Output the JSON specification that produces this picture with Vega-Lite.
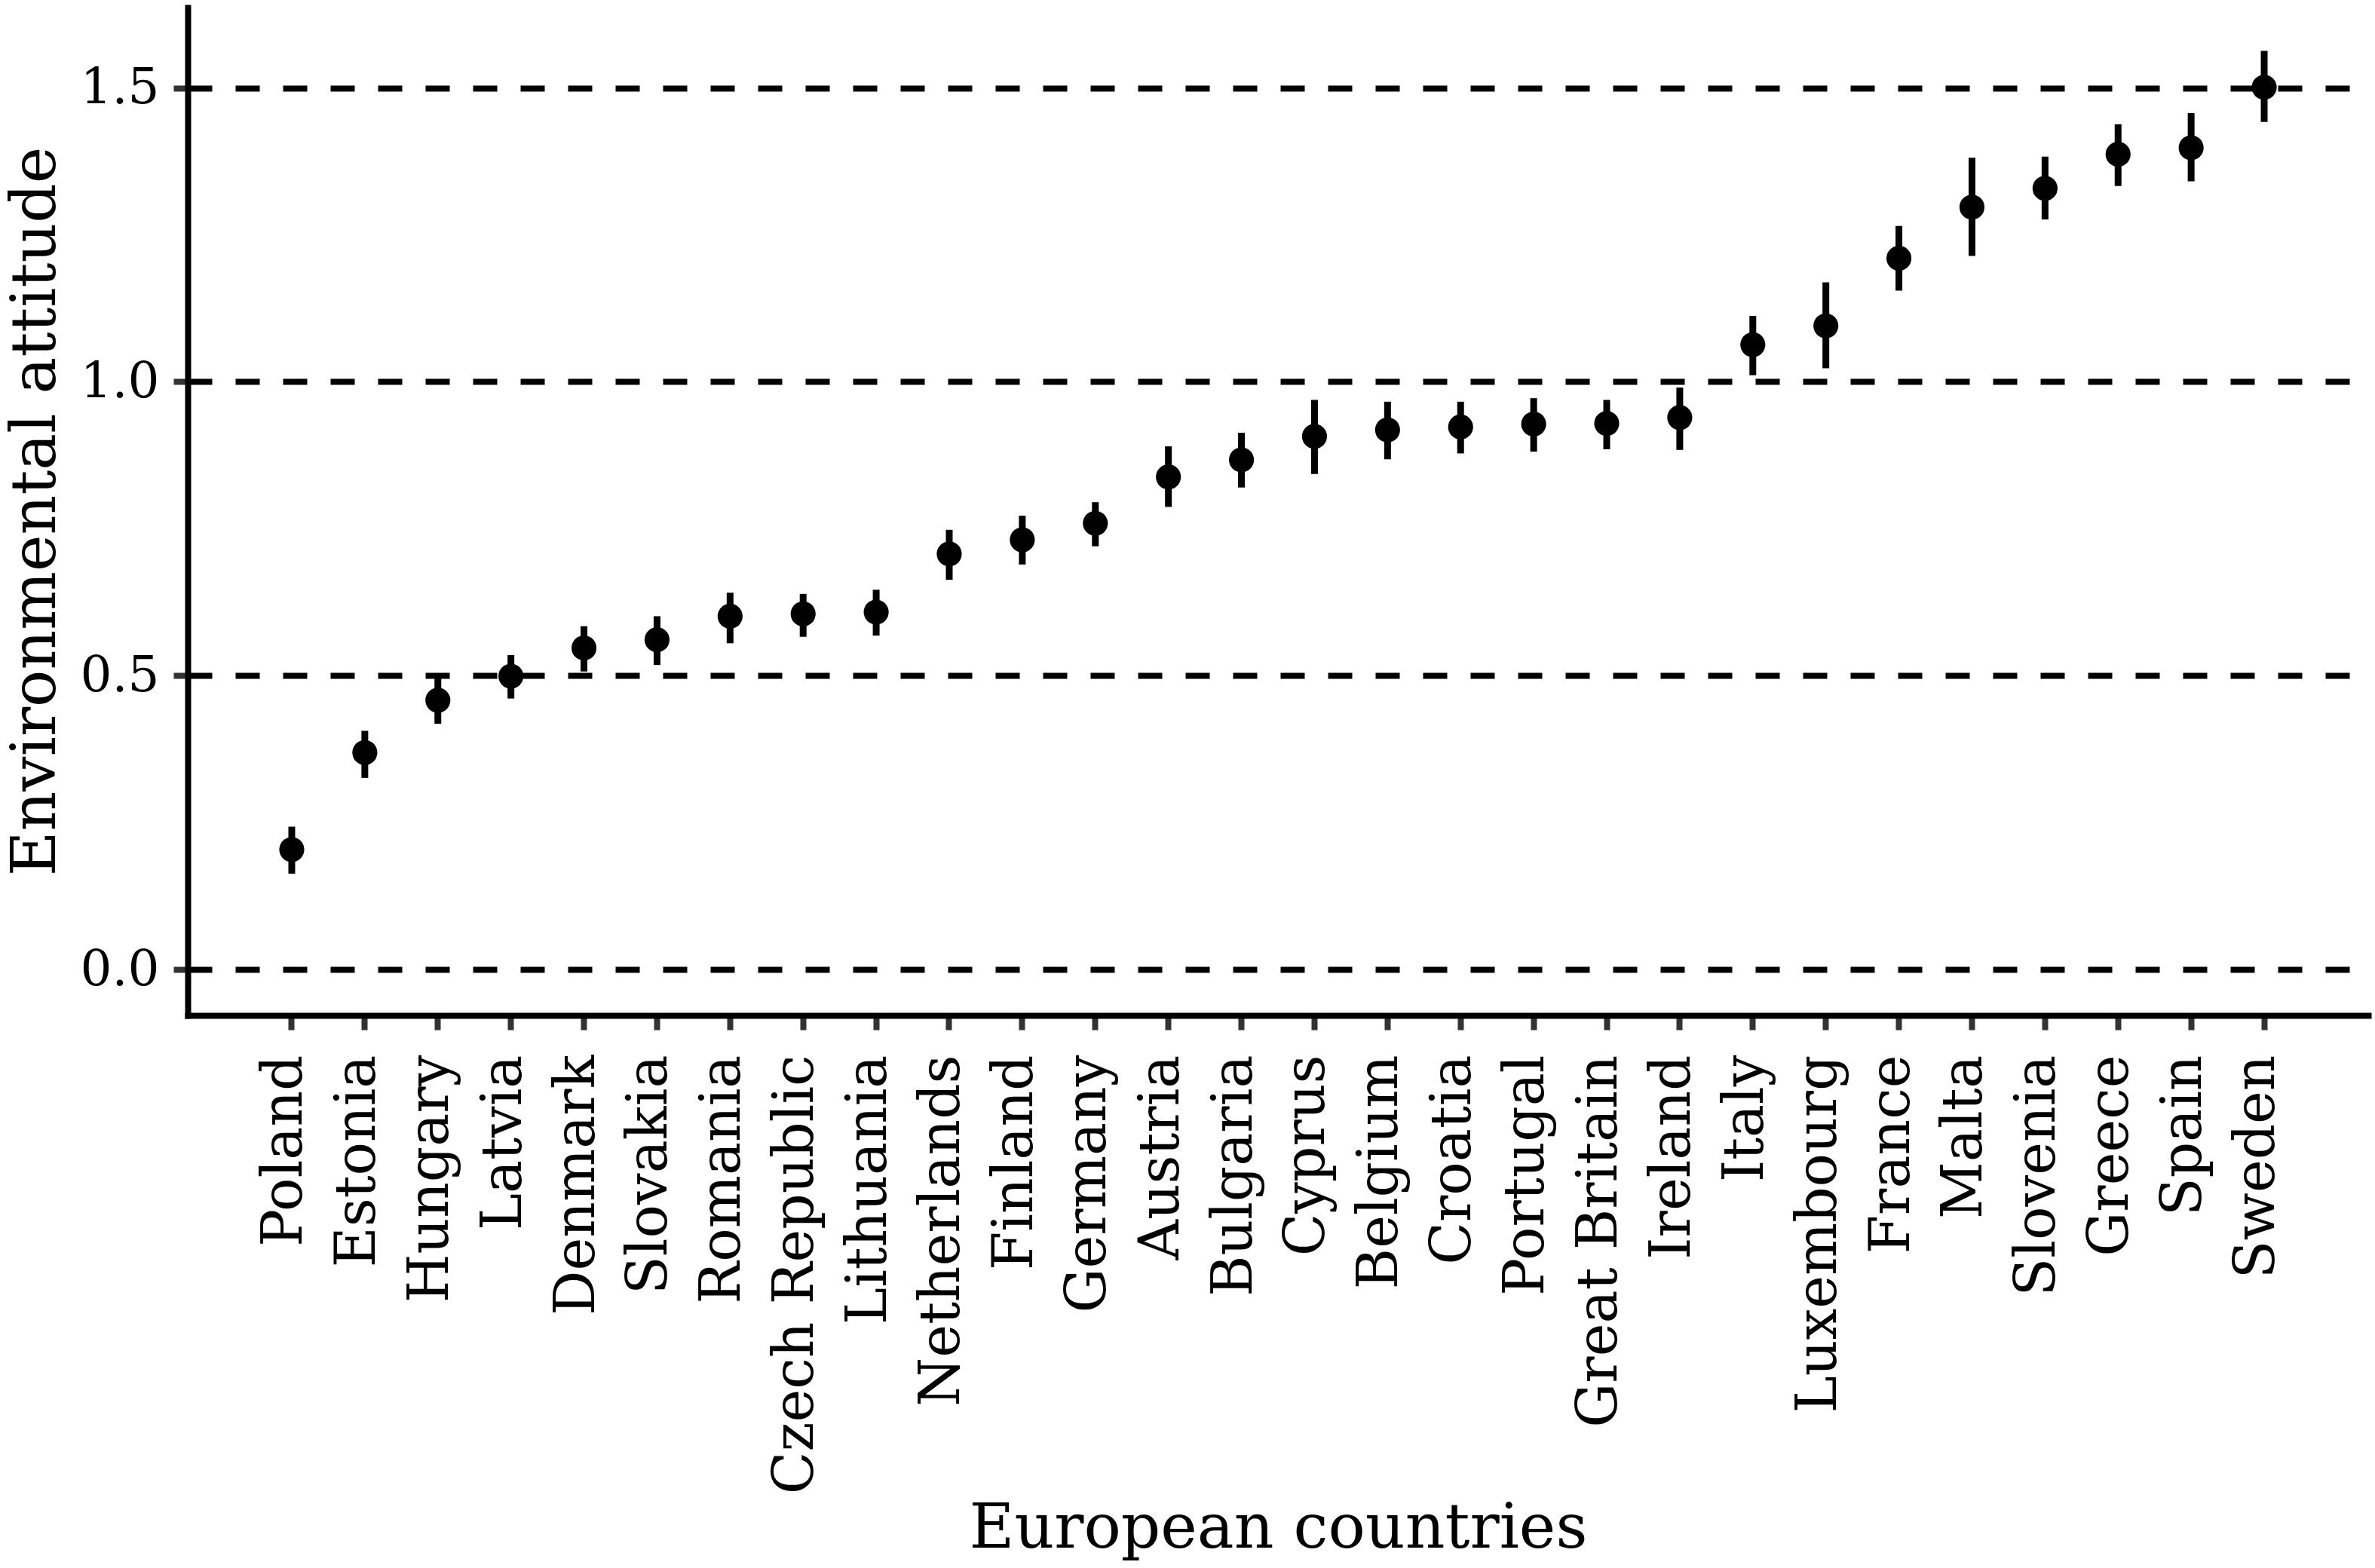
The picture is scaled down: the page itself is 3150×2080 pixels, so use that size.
{
  "$schema": "https://vega.github.io/schema/vega-lite/v6.json",
  "width": 2892,
  "height": 1337,
  "autosize": {"type": "none"},
  "padding": {"left": 249, "top": 10, "right": 9, "bottom": 733},
  "background": "white",
  "config": {
    "view": {"stroke": null},
    "font": "DejaVu Serif",
    "axis": {
      "labelFont": "DejaVu Serif",
      "titleFont": "DejaVu Serif",
      "labelColor": "black",
      "titleColor": "black",
      "titleFontWeight": "normal",
      "domainColor": "black",
      "domainWidth": 8,
      "domainCap": "square",
      "tickColor": "#333333",
      "tickWidth": 8,
      "tickSize": 19
    }
  },
  "data": {
    "values": [
      {"country": "Poland", "mean": 0.204, "lo": 0.163, "hi": 0.243},
      {"country": "Estonia", "mean": 0.369, "lo": 0.326, "hi": 0.406},
      {"country": "Hungary", "mean": 0.458, "lo": 0.418, "hi": 0.498},
      {"country": "Latvia", "mean": 0.499, "lo": 0.461, "hi": 0.535},
      {"country": "Denmark", "mean": 0.547, "lo": 0.507, "hi": 0.584},
      {"country": "Slovakia", "mean": 0.561, "lo": 0.518, "hi": 0.601},
      {"country": "Romania", "mean": 0.601, "lo": 0.555, "hi": 0.641},
      {"country": "Czech Republic", "mean": 0.605, "lo": 0.566, "hi": 0.639},
      {"country": "Lithuania", "mean": 0.608, "lo": 0.568, "hi": 0.646},
      {"country": "Netherlands", "mean": 0.707, "lo": 0.663, "hi": 0.748},
      {"country": "Finland", "mean": 0.731, "lo": 0.689, "hi": 0.772},
      {"country": "Germany", "mean": 0.759, "lo": 0.720, "hi": 0.795},
      {"country": "Austria", "mean": 0.838, "lo": 0.787, "hi": 0.890},
      {"country": "Bulgaria", "mean": 0.867, "lo": 0.820, "hi": 0.913},
      {"country": "Cyprus", "mean": 0.907, "lo": 0.843, "hi": 0.969},
      {"country": "Belgium", "mean": 0.918, "lo": 0.868, "hi": 0.966},
      {"country": "Croatia", "mean": 0.923, "lo": 0.878, "hi": 0.966},
      {"country": "Portugal", "mean": 0.928, "lo": 0.881, "hi": 0.972},
      {"country": "Great Britain", "mean": 0.929, "lo": 0.885, "hi": 0.969},
      {"country": "Ireland", "mean": 0.939, "lo": 0.884, "hi": 0.990},
      {"country": "Italy", "mean": 1.063, "lo": 1.011, "hi": 1.112},
      {"country": "Luxembourg", "mean": 1.095, "lo": 1.023, "hi": 1.169},
      {"country": "France", "mean": 1.210, "lo": 1.155, "hi": 1.265},
      {"country": "Malta", "mean": 1.297, "lo": 1.214, "hi": 1.381},
      {"country": "Slovenia", "mean": 1.329, "lo": 1.276, "hi": 1.383},
      {"country": "Greece", "mean": 1.387, "lo": 1.333, "hi": 1.438},
      {"country": "Spain", "mean": 1.398, "lo": 1.341, "hi": 1.457},
      {"country": "Sweden", "mean": 1.501, "lo": 1.442, "hi": 1.563}
    ]
  },
  "encoding": {
    "x": {
      "field": "country",
      "type": "nominal",
      "sort": null,
      "scale": {"type": "band", "paddingInner": 0, "paddingOuter": 0.924},
      "axis": {
        "title": "European countries",
        "titleFontSize": 82,
        "titleX": 1446,
        "titleY": 705,
        "titleAlign": "center",
        "titleBaseline": "alphabetic",
        "labelAngle": -90,
        "labelFontSize": 74,
        "labelPadding": 33,
        "labelOffset": -9,
        "labelLimit": 0,
        "bandPosition": 0.5,
        "grid": false
      }
    }
  },
  "layer": [
    {
      "mark": {"type": "rule", "color": "black", "strokeWidth": 9, "strokeCap": "butt"},
      "encoding": {
        "y": {
          "field": "lo",
          "type": "quantitative",
          "scale": {"domain": [-0.0782, 1.6366], "nice": false, "zero": false},
          "axis": {
            "title": "Environmental attitude",
            "titleFontSize": 82,
            "titleAngle": -90,
            "titleX": -177,
            "titleY": 668,
            "titleAlign": "center",
            "titleBaseline": "alphabetic",
            "values": [0, 0.5, 1, 1.5],
            "format": ".1f",
            "labelFontSize": 66,
            "labelPadding": 19,
            "grid": true,
            "gridColor": "black",
            "gridWidth": 8,
            "gridDash": [32, 31],
            "gridOpacity": 1
          }
        },
        "y2": {"field": "hi"}
      }
    },
    {
      "mark": {"type": "point", "filled": true, "color": "black", "opacity": 1, "size": 1100, "shape": "circle"},
      "encoding": {
        "y": {"field": "mean", "type": "quantitative"}
      }
    }
  ]
}
